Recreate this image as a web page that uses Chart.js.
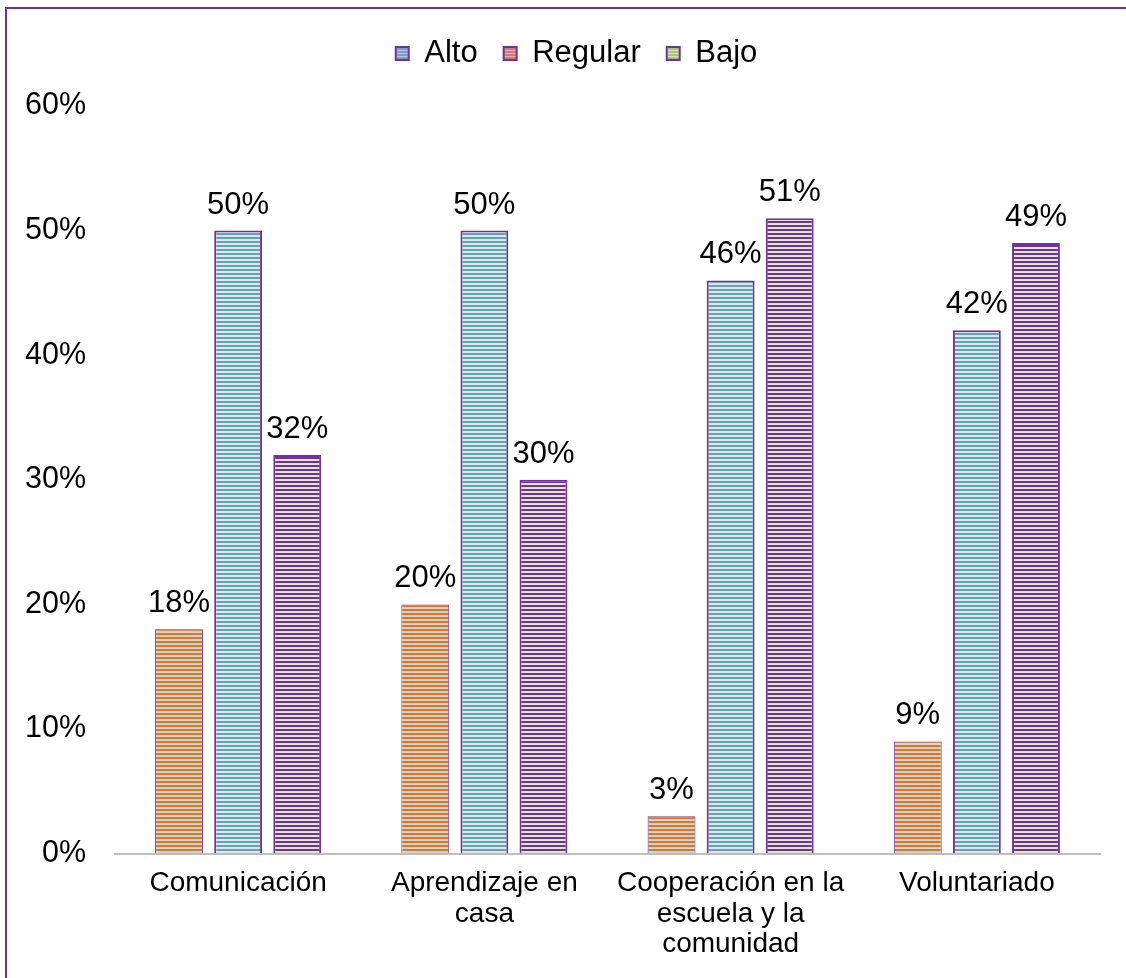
<!DOCTYPE html>
<html>
<head>
<meta charset="utf-8">
<script src="https://cdn.jsdelivr.net/npm/chart.js@4.4.0/dist/chart.umd.min.js"></script>
<style>
  html, body { margin: 0; padding: 0; background: #fff; }
  #wrap {
    position: absolute; left: 5px; top: 7px; width: 1121px; height: 971px;
    border-left: 2px solid #7030a0; border-top: 2px solid #7030a0;
  }
  #chart { position: absolute; left: 0; top: 0; }
</style>
</head>
<body>
<div id="wrap"><canvas id="chart" width="1119" height="969"></canvas></div>
<script>
// categorias y valores (%)
const categorias = [
  ['Comunicación'],
  ['Aprendizaje en', 'casa'],
  ['Cooperación en la', 'escuela y la', 'comunidad'],
  ['Voluntariado']
];
const series = ['Alto', 'Regular', 'Bajo'];
const alto = [18, 20, 3, 9];
const regular = [50, 50, 46, 42];
const bajo = [32, 30, 51, 49];
const yTicks = [0, 10, 20, 30, 40, 50, 60];

const FONT = '"Liberation Sans", Arial, sans-serif';

// rayas horizontales para las barras
function stripes(c1, c2, h1, h2) {
  const p = document.createElement('canvas');
  p.width = 4; p.height = h1 + h2;
  const g = p.getContext('2d');
  g.fillStyle = c2; g.fillRect(0, 0, 4, h1 + h2);
  g.fillStyle = c1; g.fillRect(0, 0, 4, h1);
  return g.createPattern(p, 'repeat');
}

const ctx = document.getElementById('chart').getContext('2d');
const barFills = [
  stripes('#e8730f', '#c9d6e6', 2, 2),
  stripes('#4bacc6', '#f4dde0', 2, 2),
  stripes('#7030a0', '#e2e8c8', 2, 2)
];
const legendFills = [
  stripes('#7c9cc4', '#b9c8dc', 2, 1),
  stripes('#d07a78', '#e8b4b2', 2, 1),
  stripes('#a9c47a', '#d7e4bd', 2, 1)
];

const valores = [alto, regular, bajo];

// etiquetas de datos encima de cada barra
const etiquetas = {
  id: 'etiquetas',
  afterDatasetsDraw(chart) {
    const c = chart.ctx;
    c.save();
    c.font = '31px ' + FONT;
    c.fillStyle = '#000';
    c.textAlign = 'center';
    c.textBaseline = 'alphabetic';
    chart.data.datasets.forEach((ds, i) => {
      chart.getDatasetMeta(i).data.forEach((bar, j) => {
        c.fillText(ds.data[j] + '%', bar.x, bar.y - 17);
      });
    });
    c.restore();
  }
};

// un poco más de aire debajo de la leyenda, y algo más a la derecha
const espacioLeyenda = {
  id: 'espacioLeyenda',
  beforeInit(chart) {
    const fit = chart.legend.fit;
    chart.legend.fit = function () {
      fit.bind(chart.legend)();
      this.height += 27;
    };
  },
  afterLayout(chart) {
    chart.legend.left += 16;
    chart.legend.right += 16;
  }
};

new Chart(ctx, {
  type: 'bar',
  data: {
    labels: categorias,
    datasets: series.map((s, i) => ({
      label: s,
      data: valores[i],
      backgroundColor: barFills[i],
      borderColor: '#7030a0',
      borderWidth: i === 0 ? 1 : 2,
      barPercentage: 0.81,
      categoryPercentage: 0.72
    }))
  },
  options: {
    responsive: false,
    animation: false,
    layout: { padding: { left: 14, right: 26, top: 3, bottom: 4 } },
    plugins: {
      legend: {
        position: 'top',
        labels: {
          font: { size: 31, family: FONT },
          color: '#000',
          boxWidth: 13,
          boxHeight: 13,
          padding: 26,
          generateLabels: chart => series.map((s, i) => ({
            text: s,
            fillStyle: legendFills[i],
            strokeStyle: '#7030a0',
            lineWidth: 2,
            datasetIndex: i
          }))
        }
      },
      tooltip: { enabled: false }
    },
    scales: {
      x: {
        grid: { display: false, drawTicks: false },
        border: { color: '#bfbfbf', width: 2 },
        ticks: {
          color: '#000',
          maxRotation: 0,
          autoSkip: false,
          padding: 14,
          font: { size: 28, family: FONT, lineHeight: 1.1 }
        }
      },
      y: {
        min: 0,
        max: 60,
        afterBuildTicks: axis => { axis.ticks = yTicks.map(v => ({ value: v })); },
        afterFit: axis => { axis.width = 94; },
        grid: { display: false, drawTicks: false },
        border: { display: false },
        ticks: {
          color: '#000',
          padding: 29,
          font: { size: 30.5, family: FONT },
          callback: v => v + '%'
        }
      }
    }
  },
  plugins: [etiquetas, espacioLeyenda]
});
</script>
</body>
</html>
